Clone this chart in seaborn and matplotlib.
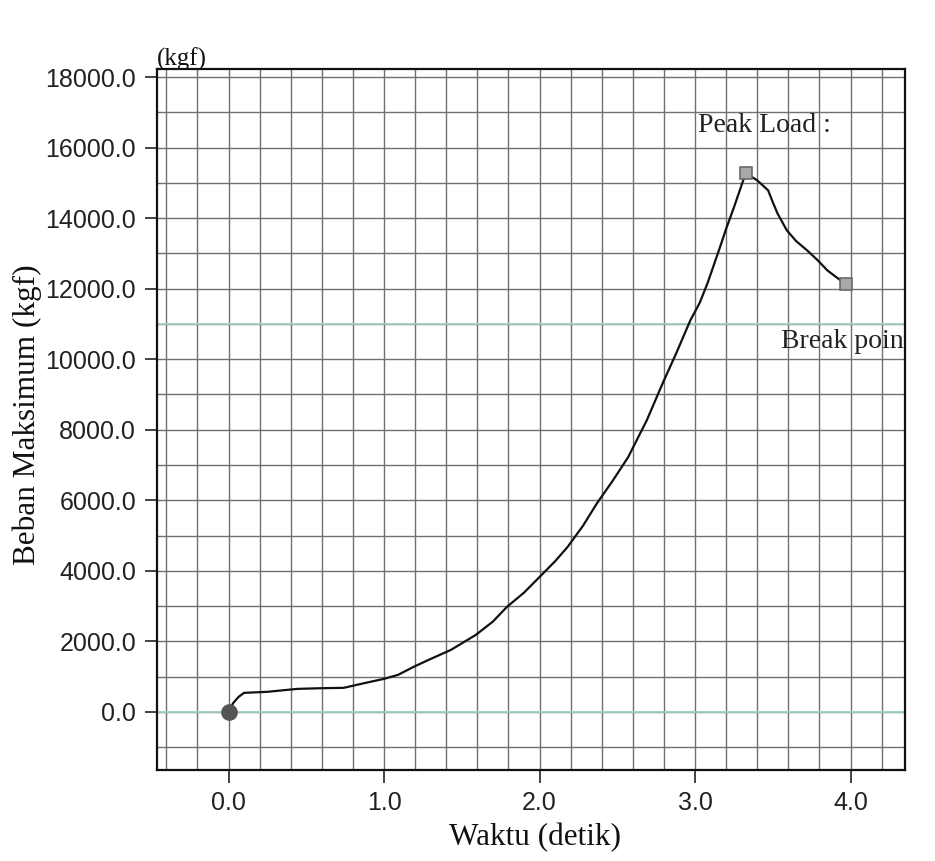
import matplotlib
matplotlib.use("Agg")
import matplotlib.pyplot as plt
from matplotlib.ticker import MultipleLocator, FormatStrFormatter
import seaborn as sns
import pandas as pd

# ---- data ----
waktu = [0.0, 0.03, 0.065, 0.1, 0.25, 0.44, 0.6, 0.74, 0.88, 1.0, 1.09, 1.19,
         1.3, 1.43, 1.59, 1.7, 1.79, 1.9, 2.0, 2.1, 2.18, 2.28, 2.37, 2.47,
         2.57, 2.69, 2.79, 2.88, 2.97, 3.03, 3.08, 3.16, 3.2, 3.25, 3.325,
         3.37, 3.40, 3.43, 3.47, 3.5, 3.53, 3.59, 3.65, 3.72, 3.79, 3.85, 3.91,
         3.97]
beban = [0, 250, 425, 538, 567, 650, 670, 680, 820, 935, 1048, 1275,
         1500, 1756, 2181, 2560, 2975, 3380, 3824, 4270, 4674, 5280, 5920, 6550,
         7224, 8272, 9300, 10180, 11105, 11600, 12153, 13173, 13700, 14306, 15269,
         15156, 15070, 14950, 14788, 14450, 14136, 13654, 13350, 13088, 12800,
         12521, 12320, 12125]
start_point = (0.0, 0.0)
peak_point = (3.325, 15269)
break_point = (3.97, 12125)
x_ticks = [0.0, 1.0, 2.0, 3.0, 4.0]
y_ticks = [0, 2000, 4000, 6000, 8000, 10000, 12000, 14000, 16000, 18000]
label_peak = "Peak Load :"
label_break = "Break point"
x_label = "Waktu (detik)"
y_label = "Beban Maksimum (kgf)"
unit_label = "(kgf)"

df = pd.DataFrame({"waktu": waktu, "beban": beban})

sns.set_theme(style="white")
plt.rcParams["font.family"] = ["Liberation Serif", "DejaVu Serif"]

fig = plt.figure(figsize=(9.35, 8.61), dpi=100)
ax = fig.add_axes([157 / 935, 1 - 770 / 861, (905 - 157) / 935, (770 - 69) / 861])

ax.set_xlim(-0.46, 4.35)
ax.set_ylim(-1650, 18230)

# grid
ax.xaxis.set_minor_locator(MultipleLocator(0.2))
ax.yaxis.set_minor_locator(MultipleLocator(1000))
ax.grid(which="both", color="#707070", lw=1.0)
ax.set_axisbelow(True)
for lvl in (0, 11000):
    ax.axhline(lvl, color="#9fd1bc", lw=1.3, zorder=0.6)

sns.lineplot(data=df, x="waktu", y="beban", sort=False, color="#111111",
             lw=1.6, ax=ax, zorder=3)

ax.plot(*start_point, marker="o", ms=11, color="#555555", zorder=4)
for p in (peak_point, break_point):
    ax.plot(*p, marker="s", ms=9, mfc="#a8a8a8", mec="#6a6a6a", mew=1.2, zorder=4)

ax.text(3.02, 16630, label_peak, fontsize=20, va="center", ha="left",
        color="#222222", zorder=5)
ax.text(3.55, 10510, label_break, fontsize=20, va="center", ha="left",
        color="#222222", clip_on=True, zorder=5)

ax.set_xticks(x_ticks)
ax.set_yticks(y_ticks)
ax.xaxis.set_major_formatter(FormatStrFormatter("%.1f"))
ax.yaxis.set_major_formatter(FormatStrFormatter("%.1f"))
tick_font = ["Liberation Sans Narrow", "Liberation Sans", "DejaVu Sans"]
for lab in ax.get_xticklabels() + ax.get_yticklabels():
    lab.set_family(tick_font)
    lab.set_fontsize(18)
    lab.set_color("#222222")
ax.tick_params(axis="both", which="major", direction="out", length=9,
               width=1.2, color="#222222", pad=6, bottom=True, left=True)
ax.tick_params(axis="both", which="minor", length=0)

for s in ax.spines.values():
    s.set_color("#111111")
    s.set_linewidth(1.6)

ax.set_xlabel("")
ax.set_ylabel("")
fig.text(535 / 935, 1 - 838 / 861, x_label, fontsize=22.5, ha="center",
         va="center", color="#111111")
fig.text(27 / 935, 1 - 415 / 861, y_label, fontsize=22.5, ha="center",
         va="center", rotation=90, color="#111111")
fig.text(157 / 935, 1 - 66 / 861, unit_label, fontsize=18, ha="left",
         va="baseline", color="#111111")

fig.savefig("out.png", dpi=100, facecolor="white")
